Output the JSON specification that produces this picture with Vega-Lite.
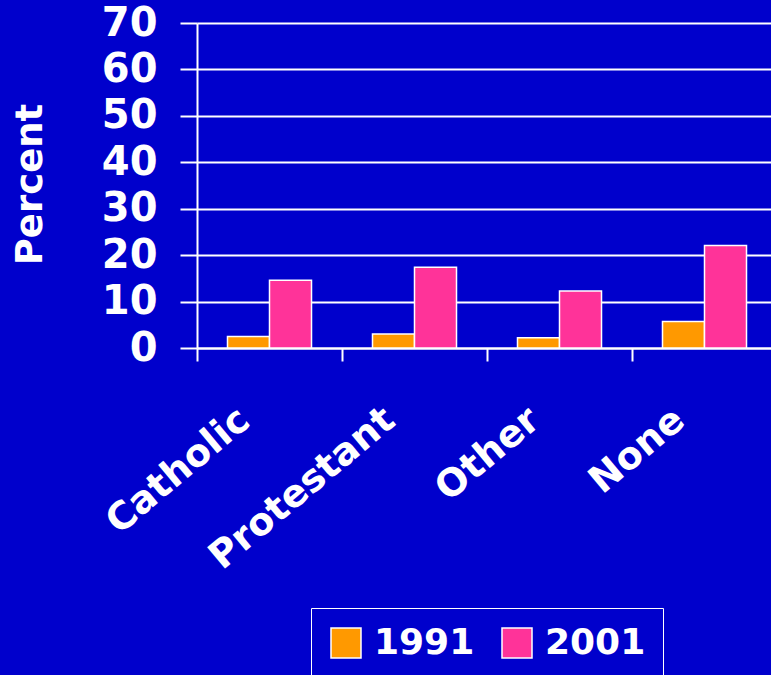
{
  "$schema": "https://vega.github.io/schema/vega-lite/v6.json",
  "autosize": {"type": "none"},
  "padding": {"left": 197, "top": 23, "right": 0, "bottom": 327},
  "width": 574,
  "height": 325,
  "background": "#0000CC",
  "config": {
    "view": {"stroke": null},
    "font": "DejaVu Sans"
  },
  "data": {
    "values": [
      {"religion": "Catholic", "year": "1991", "percent": 2.5},
      {"religion": "Catholic", "year": "2001", "percent": 14.6},
      {"religion": "Protestant", "year": "1991", "percent": 3.0},
      {"religion": "Protestant", "year": "2001", "percent": 17.4},
      {"religion": "Other", "year": "1991", "percent": 2.2},
      {"religion": "Other", "year": "2001", "percent": 12.3},
      {"religion": "None", "year": "1991", "percent": 5.7},
      {"religion": "None", "year": "2001", "percent": 22.1}
    ]
  },
  "mark": {"type": "bar", "stroke": "white", "strokeWidth": 1.5},
  "encoding": {
    "x": {
      "field": "religion",
      "type": "nominal",
      "sort": ["Catholic", "Protestant", "Other", "None"],
      "scale": {"range": [0, 580], "paddingInner": 0, "paddingOuter": 0},
      "axis": {
        "title": null,
        "domainColor": "white",
        "domainWidth": 2,
        "tickColor": "white",
        "tickWidth": 2,
        "tickSize": 13,
        "tickBand": "extent",
        "labelAngle": -40,
        "labelAlign": "right",
        "labelBaseline": "middle",
        "labelColor": "white",
        "labelFont": "DejaVu Sans",
        "labelFontWeight": "bold",
        "labelFontSize": 38,
        "labelPadding": 54,
        "labelOffset": -25,
        "labelLimit": 0,
        "labelOverlap": false
      }
    },
    "xOffset": {"field": "year", "type": "nominal", "scale": {"paddingInner": 0, "paddingOuter": 0.726}},
    "y": {
      "field": "percent",
      "type": "quantitative",
      "scale": {"domain": [0, 70], "nice": false},
      "axis": {
        "title": "Percent",
        "titleColor": "white",
        "titleFont": "DejaVu Sans",
        "titleFontWeight": "bold",
        "titleFontSize": 37,
        "titleAngle": -90,
        "titleX": -148,
        "titleY": 161,
        "titleAlign": "center",
        "titleBaseline": "bottom",
        "values": [0, 10, 20, 30, 40, 50, 60, 70],
        "grid": true,
        "gridColor": "white",
        "gridWidth": 2,
        "gridOpacity": 1,
        "domainColor": "white",
        "domainWidth": 2,
        "tickColor": "white",
        "tickWidth": 2,
        "tickSize": 17,
        "labelColor": "white",
        "labelFont": "DejaVu Sans",
        "labelFontWeight": "bold",
        "labelFontSize": 40,
        "labelPadding": 23
      }
    },
    "color": {
      "field": "year",
      "type": "nominal",
      "scale": {"domain": ["1991", "2001"], "range": ["#FF9900", "#FF3399"]},
      "legend": {
        "title": null,
        "orient": "none",
        "legendX": 114,
        "legendY": 585,
        "direction": "horizontal",
        "strokeColor": "white",
        "padding": 17,
        "symbolType": "square",
        "symbolSize": 900,
        "symbolStrokeColor": "white",
        "symbolStrokeWidth": 1.5,
        "symbolOpacity": 1,
        "labelColor": "white",
        "labelFont": "DejaVu Sans",
        "labelFontWeight": "bold",
        "labelFontSize": 36,
        "labelOffset": 10,
        "columnPadding": 24
      }
    }
  }
}
